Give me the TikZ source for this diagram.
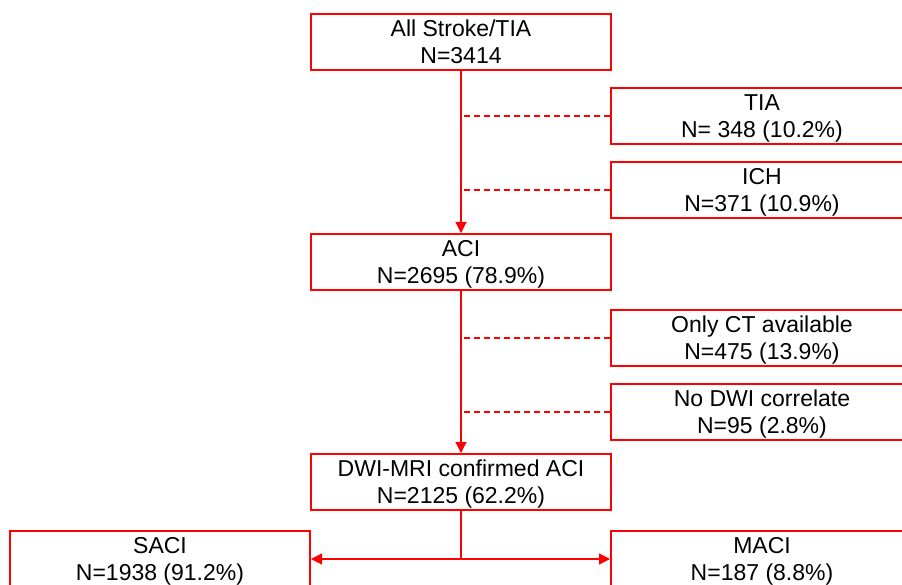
\documentclass[tikz,border=0pt]{standalone}
\usepackage{fontspec}
\setmainfont{Liberation Sans}
\usetikzlibrary{arrows.meta}
\begin{document}
\begin{tikzpicture}[x=1pt,y=-1pt,
        box/.style={draw=red, line width=2pt, minimum width=300pt, minimum height=56pt,
                    inner sep=0pt, align=center, font=\fontsize{23}{27}\selectfont,
                    text depth=-3pt},
        flow/.style={draw=red, line width=1.2pt, -{Triangle[length=11pt,width=11pt]}},
        excl/.style={draw=red, line width=1.3pt, dash pattern=on 6pt off 4pt}]
    \useasboundingbox (0,0) rectangle (902,585);
    \clip (0,0) rectangle (902,585);
    % main column
    \node[box] (all) at (461,42)  {All Stroke/TIA\\N=3414};
    \node[box] (aci) at (461,262) {ACI\\N=2695 (78.9\%)};
    \node[box] (dwi) at (461,482) {DWI-MRI confirmed ACI\\N=2125 (62.2\%)};
    % excluded
    \node[box, minimum width=302pt] (tia)   at (762,116) {TIA\\N= 348 (10.2\%)};
    \node[box, minimum width=302pt] (ich)   at (762,190) {ICH\\N=371 (10.9\%)};
    \node[box, minimum width=302pt] (ctonly) at (762,338) {Only CT available\\N=475 (13.9\%)};
    \node[box, minimum width=302pt] (nodwi) at (762,412) {No DWI correlate\\N=95 (2.8\%)};
    % subtypes
    \node[box] (saci) at (160,559) {SACI\\N=1938 (91.2\%)};
    \node[box, minimum width=302pt] (maci) at (762,559) {MACI\\N=187 (8.8\%)};
    \coordinate (split) at (dwi.south |- saci.east);
    \draw[flow] (all) -- (aci);
    \draw[flow] (aci) -- (dwi);
    \draw[excl] (tia.west) -- (tia.west -| all.south);
    \draw[excl] (ich.west) -- (ich.west -| all.south);
    \draw[excl] (ctonly.west) -- (ctonly.west -| aci.south);
    \draw[excl] (nodwi.west) -- (nodwi.west -| aci.south);
    \draw[red, line width=1.2pt] (dwi.south) -- (split);
    \draw[flow] (split) -- (saci.east);
    \draw[flow] (split) -- (maci.west);
\end{tikzpicture}
\end{document}
